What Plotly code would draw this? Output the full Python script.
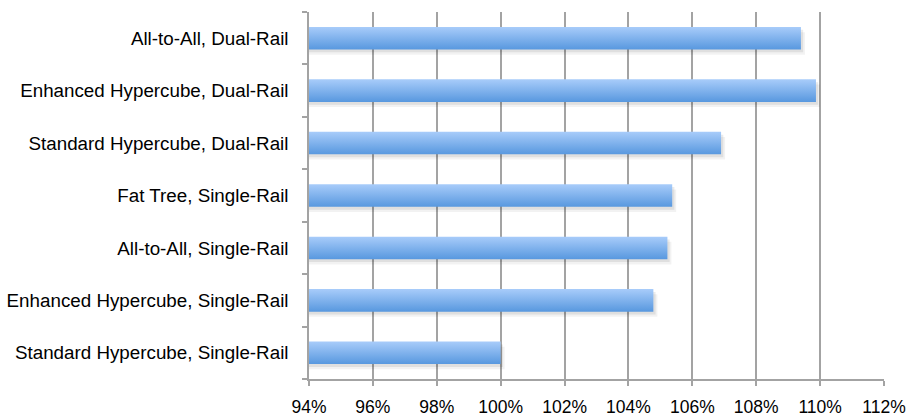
import plotly.graph_objects as go

# Configurations, listed bottom-to-top as they appear on the axis
categories = [
    "Standard Hypercube, Single-Rail",
    "Enhanced Hypercube, Single-Rail",
    "All-to-All, Single-Rail",
    "Fat Tree, Single-Rail",
    "Standard Hypercube, Dual-Rail",
    "Enhanced Hypercube, Dual-Rail",
    "All-to-All, Dual-Rail",
]
# Relative performance, percent of the single-rail standard hypercube
relative_performance = [100.0, 104.78, 105.22, 105.37, 106.9, 109.87, 109.4]

x_tick_values = [94, 96, 98, 100, 102, 104, 106, 108, 110, 112]
x_tick_labels = [f"{v}%" for v in x_tick_values]

X_MIN, X_MAX = 94, 112
BAR_HALF = 0.215          # half bar thickness, in category units
GRID = "#a3a3a3"
FONT = "Liberation Sans, Arial, sans-serif"

# drop-shadow offsets (data units)
SHADOW_DX, SHADOW_DY = 0.07, 0.055

fig = go.Figure()

for i, (name, val) in enumerate(zip(categories, relative_performance)):
    y0, y1 = i - BAR_HALF, i + BAR_HALF
    # soft drop shadow under the bar
    for k, alpha in ((1.0, 0.08), (1.8, 0.05)):
        dx, dy = SHADOW_DX * k, SHADOW_DY * k
        fig.add_trace(go.Scatter(
            x=[0, val + dx, val + dx, 0, 0],
            y=[y0 - dy, y0 - dy, y1 - dy, y1 - dy, y0 - dy],
            mode="lines", line=dict(width=0),
            fill="toself", fillcolor=f"rgba(0,0,0,{alpha})",
            hoverinfo="skip", showlegend=False,
        ))
    # bar body with a vertical light-to-dark blue gradient
    fig.add_trace(go.Scatter(
        x=[0, val, val, 0, 0],
        y=[y0, y0, y1, y1, y0],
        mode="lines", line=dict(width=0),
        fill="toself",
        fillgradient=dict(type="vertical",
                          colorscale=[[0, "#5898df"], [1, "#a8ccfa"]]),
        name=name, showlegend=False,
        hovertemplate=f"{name}: {val:.1f}%<extra></extra>",
    ))

fig.update_layout(
    template="none",
    width=909, height=413,
    margin=dict(l=309, r=25, t=12, b=34),
    plot_bgcolor="white", paper_bgcolor="white",
    font=dict(family=FONT, color="black"),
    showlegend=False,
)

fig.update_xaxes(
    automargin=False,
    range=[X_MIN, X_MAX],
    tickvals=x_tick_values, ticktext=x_tick_labels,
    tickfont=dict(size=17.5, family=FONT, color="black"),
    showgrid=True, gridcolor=GRID, gridwidth=1.5,
    showline=True, linecolor=GRID, linewidth=1.5,
    ticks="outside", ticklen=5, tickcolor=GRID, tickwidth=1.5,
    ticklabelstandoff=6,
    zeroline=False,
)

fig.update_yaxes(
    automargin=False,
    range=[-0.5, len(categories) - 0.5],
    tickvals=list(range(len(categories))), ticktext=categories,
    tickfont=dict(size=18.8, family=FONT, color="black"),
    showgrid=False, zeroline=False,
    showline=True, linecolor=GRID, linewidth=1.5,
    ticks="", ticklabelstandoff=15,
    minor=dict(
        tickvals=[i - 0.5 for i in range(len(categories) + 1)],
        ticks="outside", ticklen=5, tickcolor=GRID, tickwidth=1.5,
        showgrid=False,
    ),
)

fig.write_html("out.html")
